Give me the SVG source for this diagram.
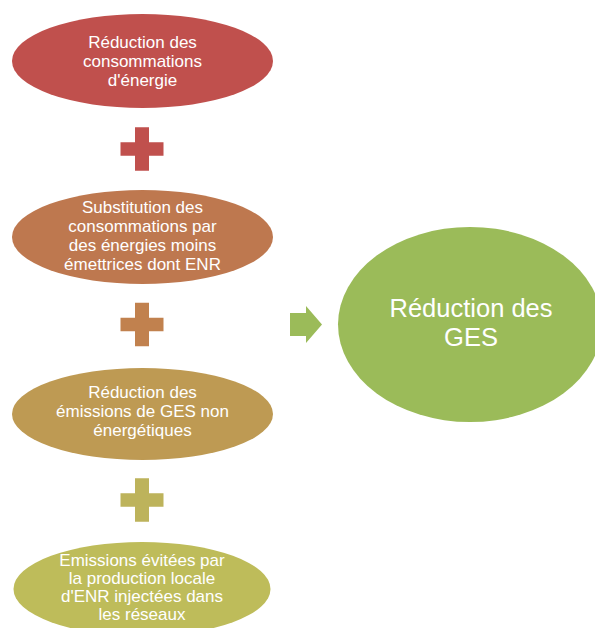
<svg xmlns="http://www.w3.org/2000/svg" width="595" height="628" viewBox="0 0 595 628">
<style>
text{font-family:"Liberation Sans",Arial,sans-serif;fill:#ffffff;text-anchor:middle}
.s{font-size:17px}
.b{font-size:25.5px}
</style>
<defs>
<path id="plus" d="M-7,-21.7H7V-6.8H21.5V6.8H7V21.7H-7V6.8H-21.5V-6.8H-7Z"/>
</defs>
<rect width="595" height="628" fill="#ffffff"/>
<g id="connectors">
<use href="#plus" x="142" y="149" fill="#C0504D"/>
<use href="#plus" x="142" y="324.5" fill="#C1814E"/>
<use href="#plus" x="142" y="500" fill="#BDB35B"/>
<polygon points="290,313 306,313 306,306 322,324.5 306,343 306,336 290,336" fill="#9BBB59"/>
</g>
<g id="node1">
<ellipse cx="142.5" cy="61" rx="130.5" ry="47" fill="#C0504D"/>
<text class="s" x="142.5" y="48">Réduction des</text>
<text class="s" x="142.5" y="67">consommations</text>
<text class="s" x="142.5" y="86">d'énergie</text>
</g>
<g id="node2">
<ellipse cx="142.5" cy="237" rx="130.5" ry="47" fill="#BE784F"/>
<text class="s" x="142.5" y="213">Substitution des</text>
<text class="s" x="142.5" y="232">consommations par</text>
<text class="s" x="142.5" y="251">des énergies moins</text>
<text class="s" x="142.5" y="270">émettrices dont ENR</text>
</g>
<g id="node3">
<ellipse cx="142.5" cy="414" rx="130.5" ry="46" fill="#BE9A53"/>
<text class="s" x="142.5" y="398">Réduction des</text>
<text class="s" x="142.5" y="417">émissions de GES non</text>
<text class="s" x="142.5" y="436">énergétiques</text>
</g>
<g id="node4">
<ellipse cx="142" cy="589" rx="128.5" ry="47" fill="#BEBC5A"/>
<text class="s" x="142" y="566">Emissions évitées par</text>
<text class="s" x="142" y="584">la production locale</text>
<text class="s" x="142" y="602">d'ENR injectées dans</text>
<text class="s" x="142" y="620">les réseaux</text>
</g>
<g id="result">
<ellipse cx="470" cy="324.5" rx="132" ry="97.5" fill="#9BBB59"/>
<text class="b" x="471" y="317">Réduction des</text>
<text class="b" x="471" y="346">GES</text>
</g>
</svg>
